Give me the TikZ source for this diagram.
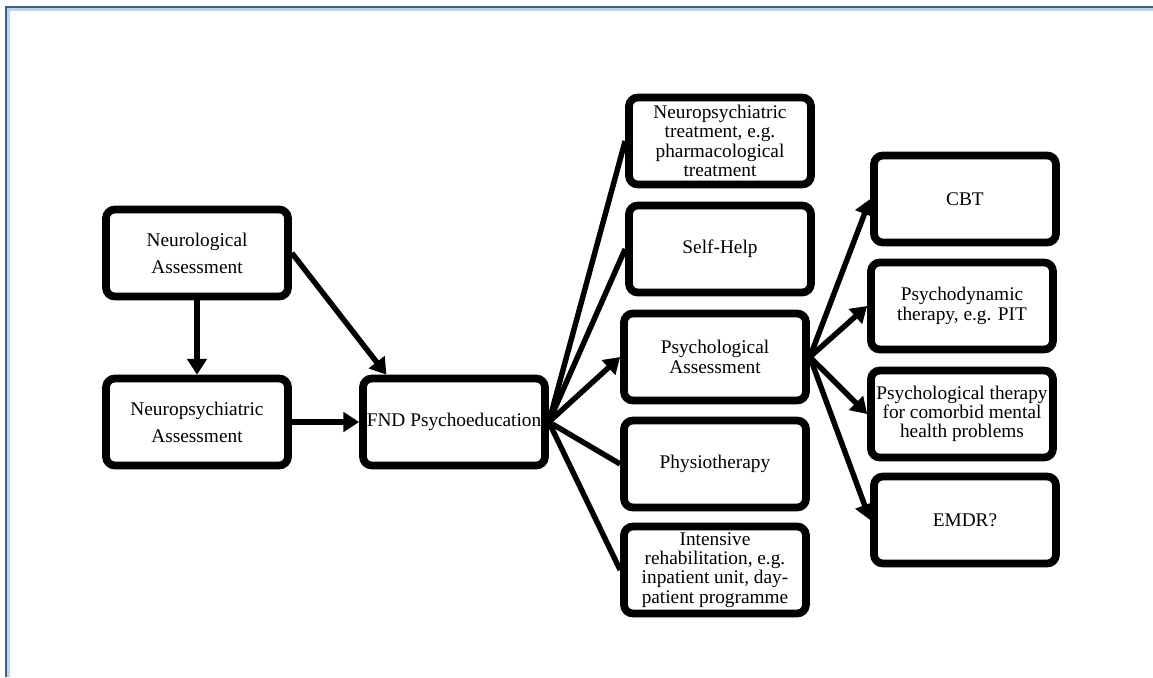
\documentclass[tikz,border=0pt]{standalone}
\usepackage{fontspec}
\setmainfont{Liberation Serif}
\usetikzlibrary{positioning}
\usetikzlibrary{shapes.geometric, arrows.meta, shadows}

\definecolor{frameblue}{RGB}{58,95,148}
\definecolor{framelight}{RGB}{190,210,235}

\tikzset{
    stepbox/.style={draw, line width=4.4pt, rounded corners=5pt, fill=white,
        minimum width=3.64cm, minimum height=1.74cm, inner sep=1pt, align=center,
        font=\fontsize{11}{11}\selectfont,
        drop shadow={opacity=0.15, shadow xshift=1.5pt, shadow yshift=-1.5pt}},
    loose/.style={font=\fontsize{11}{15.3}\selectfont},
    link/.style={line width=3.1pt},
    arr/.style={link, -{Triangle[length=9pt, width=11pt]}},
}

\begin{document}
\begin{tikzpicture}[x=0.02cm, y=-0.02cm]
    \useasboundingbox (0,0) rectangle (1153,677);
    % page frame
    \draw[line width=2.5pt, framelight] (8,677) -- (8,9) -- (1153,9);
    \draw[line width=1.5pt, frameblue] (6,677) -- (6,7) -- (1153,7);

    % left column
    \node[stepbox, loose] (neuro) at (197,253) {Neurological\\Assessment};
    \node[stepbox, loose] (neuropsych) at (197,422) {Neuropsychiatric\\Assessment};
    \node[stepbox] (fnd) at (454,422) {FND Psychoeducation};

    % middle column
    \node[stepbox] (treat) at (720,141) {Neuropsychiatric\\treatment, e.g.\\pharmacological\\treatment};
    \node[stepbox] (selfhelp) at (720,249) {Self-Help};
    \node[stepbox] (psyassess) at (715,357) {Psychological\\Assessment};
    \node[stepbox] (physio) at (715,464) {Physiotherapy};
    \node[stepbox] (rehab) at (715,570) {Intensive\\rehabilitation, e.g.\\inpatient unit, day-\\patient programme};

    % right column
    \node[stepbox] (cbt) at (965,199) {CBT};
    \node[stepbox] (pdyn) at (962,306) {Psychodynamic\\therapy, e.g. PIT};
    \node[stepbox] (comorbid) at (962,414) {Psychological therapy\\for comorbid mental\\health problems};
    \node[stepbox] (emdr) at (965,520) {EMDR?};

    % connectors
    \draw[arr] (neuro) -- (neuropsych);
    \draw[arr] (neuro.east) -- (fnd.145);
    \draw[arr] (neuropsych) -- (fnd);

    \draw[link] (fnd.east) -- (treat.west);
    \draw[link] (fnd.east) -- (selfhelp.west);
    \draw[arr] (fnd.east) -- (psyassess.west);
    \draw[link] (fnd.east) -- (physio.west);
    \draw[link] (fnd.east) -- (rehab.west);

    \draw[arr] (psyassess.east) -- (cbt.west);
    \draw[arr] (psyassess.east) -- (pdyn.west);
    \draw[arr] (psyassess.east) -- (comorbid.west);
    \draw[arr] (psyassess.east) -- (emdr.west);
\end{tikzpicture}
\end{document}
